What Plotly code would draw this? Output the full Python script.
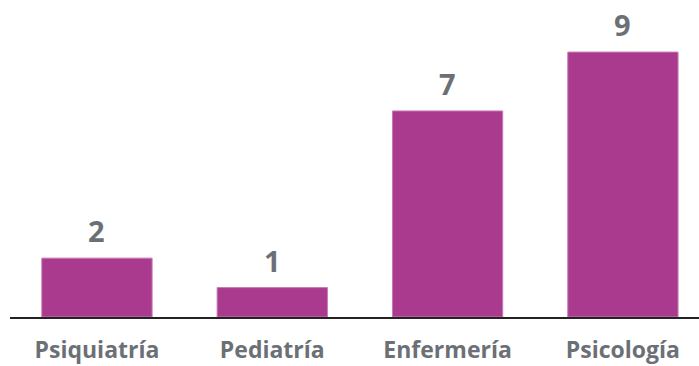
import plotly.graph_objects as go

categories = ["Psiquiatría", "Pediatría", "Enfermería", "Psicología"]
values = [2, 1, 7, 9]

BAR = "#A93A8E"
TXT = "#6B7076"
FONT = "'Open Sans', Lato, sans-serif"

fig = go.Figure(go.Bar(
    x=categories, y=values,
    marker=dict(color=BAR, line=dict(color="#C67AB4", width=1)),
    hoverinfo="skip",
))

for c, v in zip(categories, values):
    fig.add_annotation(x=c, y=v, text=str(v), showarrow=False,
                       yanchor="bottom", yshift=6,
                       font=dict(family=FONT, size=29, color=TXT, weight="bold"))

fig.update_layout(
    width=699, height=366,
    margin=dict(l=10, r=0, t=0, b=49, autoexpand=False),
    paper_bgcolor="white", plot_bgcolor="white",
    bargap=0.371,
    showlegend=False,
    xaxis=dict(range=[-0.496, 3.434], showgrid=False, zeroline=False,
               showline=True, linecolor="#222222", linewidth=2,
               ticks="", ticklabelstandoff=11, automargin=False,
               tickfont=dict(family=FONT, size=23, color=TXT, weight="bold")),
    yaxis=dict(range=[0, 10.77], visible=False),
)

fig.write_html("out.html", config={"displayModeBar": False},
               post_script="document.body.style.margin='0';document.body.style.overflow='hidden';")
